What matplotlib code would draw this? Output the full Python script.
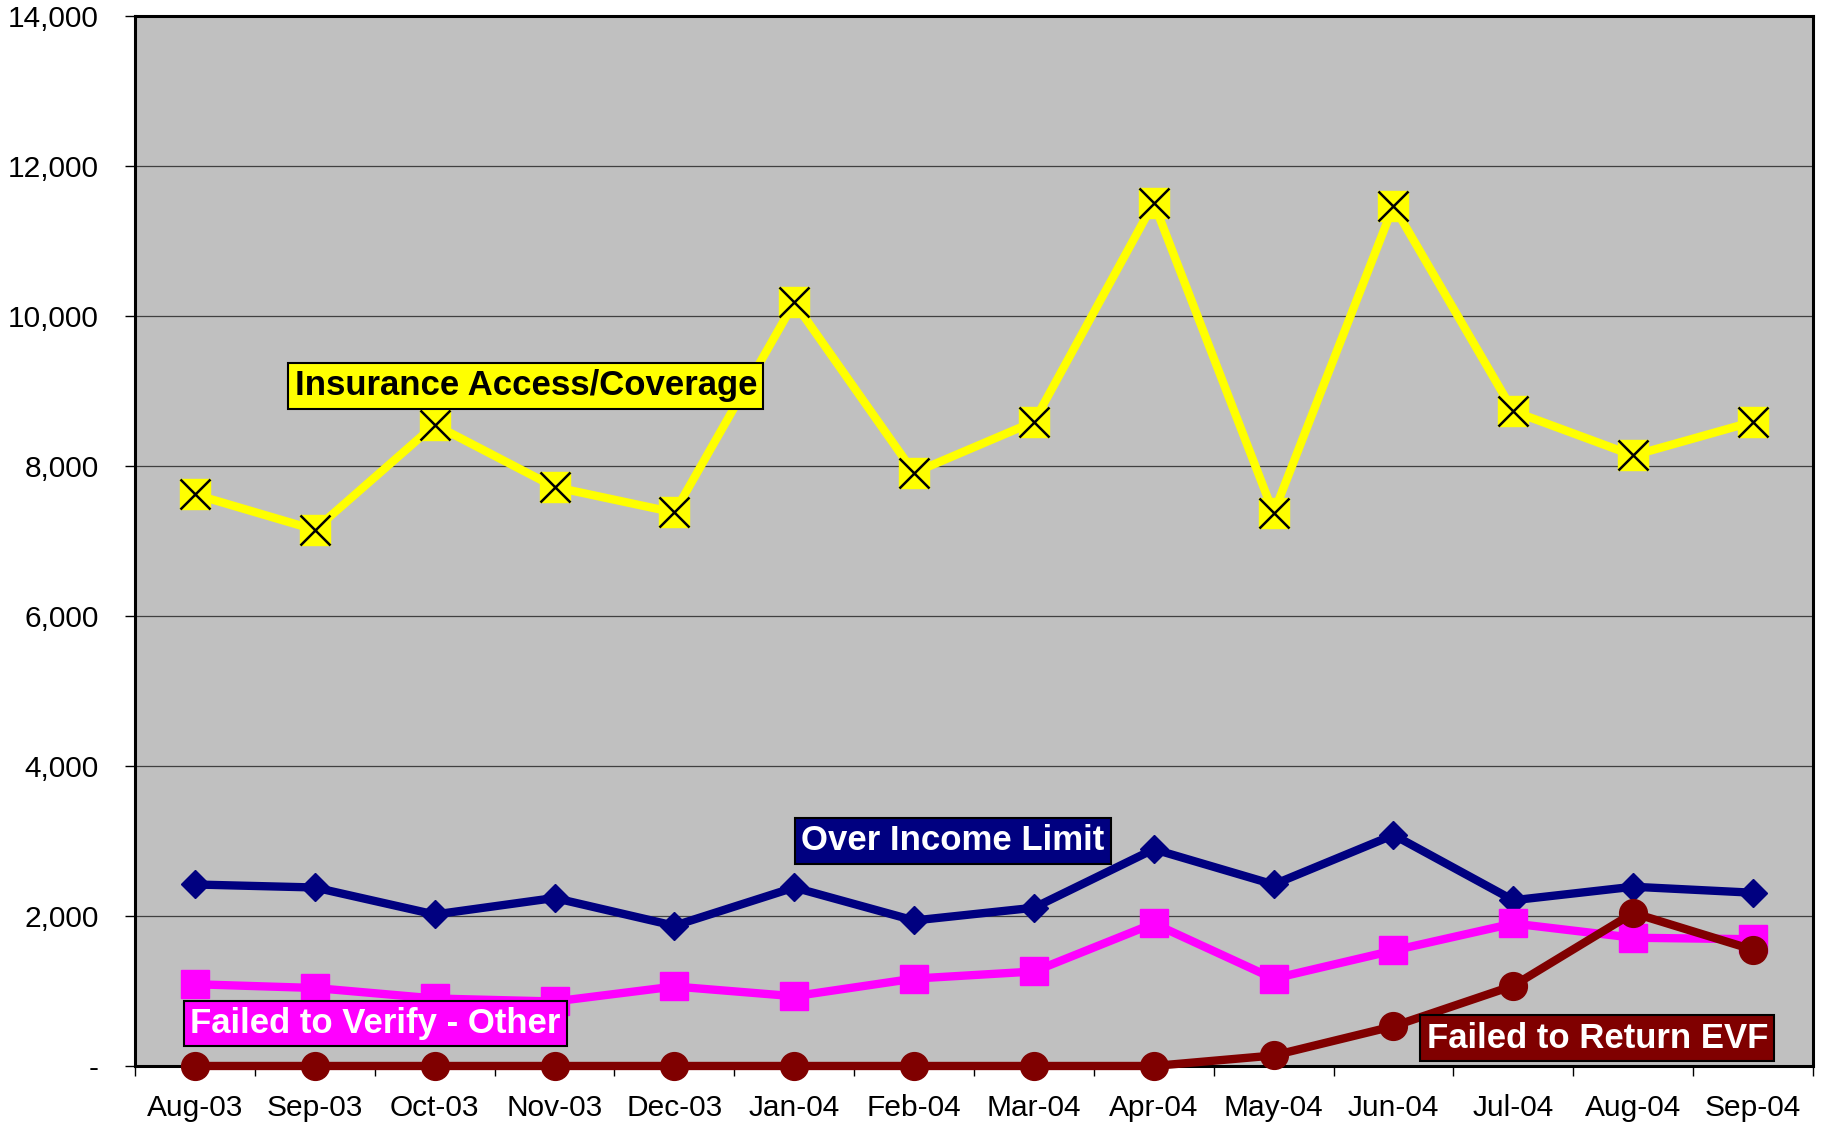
import matplotlib
matplotlib.use("Agg")
import matplotlib.pyplot as plt
from matplotlib.ticker import FuncFormatter, FixedLocator

plt.rcParams['font.family'] = ['Liberation Sans', 'DejaVu Sans']

months = ["Aug-03", "Sep-03", "Oct-03", "Nov-03", "Dec-03", "Jan-04", "Feb-04",
          "Mar-04", "Apr-04", "May-04", "Jun-04", "Jul-04", "Aug-04", "Sep-04"]
insurance = [7620, 7150, 8550, 7720, 7380, 10180, 7910, 8590, 11510, 7370, 11470, 8730, 8140, 8590]
over_income = [2420, 2380, 2020, 2240, 1870, 2380, 1940, 2110, 2890, 2420, 3080, 2210, 2390, 2310]
failed_verify = [1090, 1040, 900, 860, 1060, 930, 1165, 1260, 1900, 1165, 1540, 1900, 1710, 1690]
failed_return = [0, 0, 0, 0, 0, 0, 0, 0, 0, 140, 530, 1070, 2040, 1550]

YELLOW = "#FFFF00"
NAVY = "#000080"
MAGENTA = "#FF00FF"
DARKRED = "#800000"

fig = plt.figure(figsize=(18.25, 11.26), dpi=100)
ax = fig.add_axes([0.074, 0.0533, 0.9194, 0.9325])
ax.set_facecolor("#C0C0C0")

x = list(range(len(months)))

ax.plot(x, insurance, color=YELLOW, lw=6, marker="s", ms=21, mfc=YELLOW, mec=YELLOW,
        zorder=3, clip_on=False)
ax.plot(x, insurance, ls="none", marker="x", ms=21, mec="black", mew=1.8, zorder=3.1,
        clip_on=False)
ax.plot(x, over_income, color=NAVY, lw=6, marker="D", ms=14, mfc=NAVY, mec=NAVY,
        zorder=4, clip_on=False)
ax.plot(x, failed_verify, color=MAGENTA, lw=6, marker="s", ms=20, mfc=MAGENTA, mec=MAGENTA,
        zorder=5, clip_on=False)
ax.plot(x, failed_return, color=DARKRED, lw=6, marker="o", ms=20, mfc=DARKRED, mec=DARKRED,
        zorder=6, clip_on=False)

ax.set_xlim(-0.5, len(months) - 0.5)
ax.set_ylim(0, 14000)
ax.set_yticks(range(0, 14001, 2000))
ax.yaxis.set_major_formatter(FuncFormatter(lambda v, p: "-" if v == 0 else f"{int(v):,}"))
ax.grid(axis="y", color="#404040", lw=0.9, zorder=1)
ax.set_axisbelow(True)

ax.set_xticks(x)
ax.set_xticklabels(months)
ax.xaxis.set_minor_locator(FixedLocator([i - 0.5 for i in range(len(months) + 1)]))
ax.tick_params(axis="x", which="major", length=0, pad=20, labelsize=21.5)
ax.tick_params(axis="x", which="minor", length=7, width=1, direction="out")
ax.tick_params(axis="y", length=7, width=1, direction="out", pad=19, labelsize=21.5)

for s in ax.spines.values():
    s.set_linewidth(2.2)
    s.set_color("black")
    s.set_zorder(2.5)

def label(xc, yc, text, fc, tc):
    ax.text(xc, yc, text, ha="center", va="center", fontsize=25, fontweight="bold",
            color=tc, zorder=10,
            bbox=dict(boxstyle="square,pad=0.18", fc=fc, ec="black", lw=1.5))

label(2.76, 9068, "Insurance Access/Coverage", YELLOW, "black")
label(6.325, 3000, "Over Income Limit", NAVY, "white")
label(1.504, 567, "Failed to Verify - Other", MAGENTA, "white")
label(11.70, 373, "Failed to Return EVF", DARKRED, "white")

fig.savefig("out.png", dpi=100, facecolor="white")
